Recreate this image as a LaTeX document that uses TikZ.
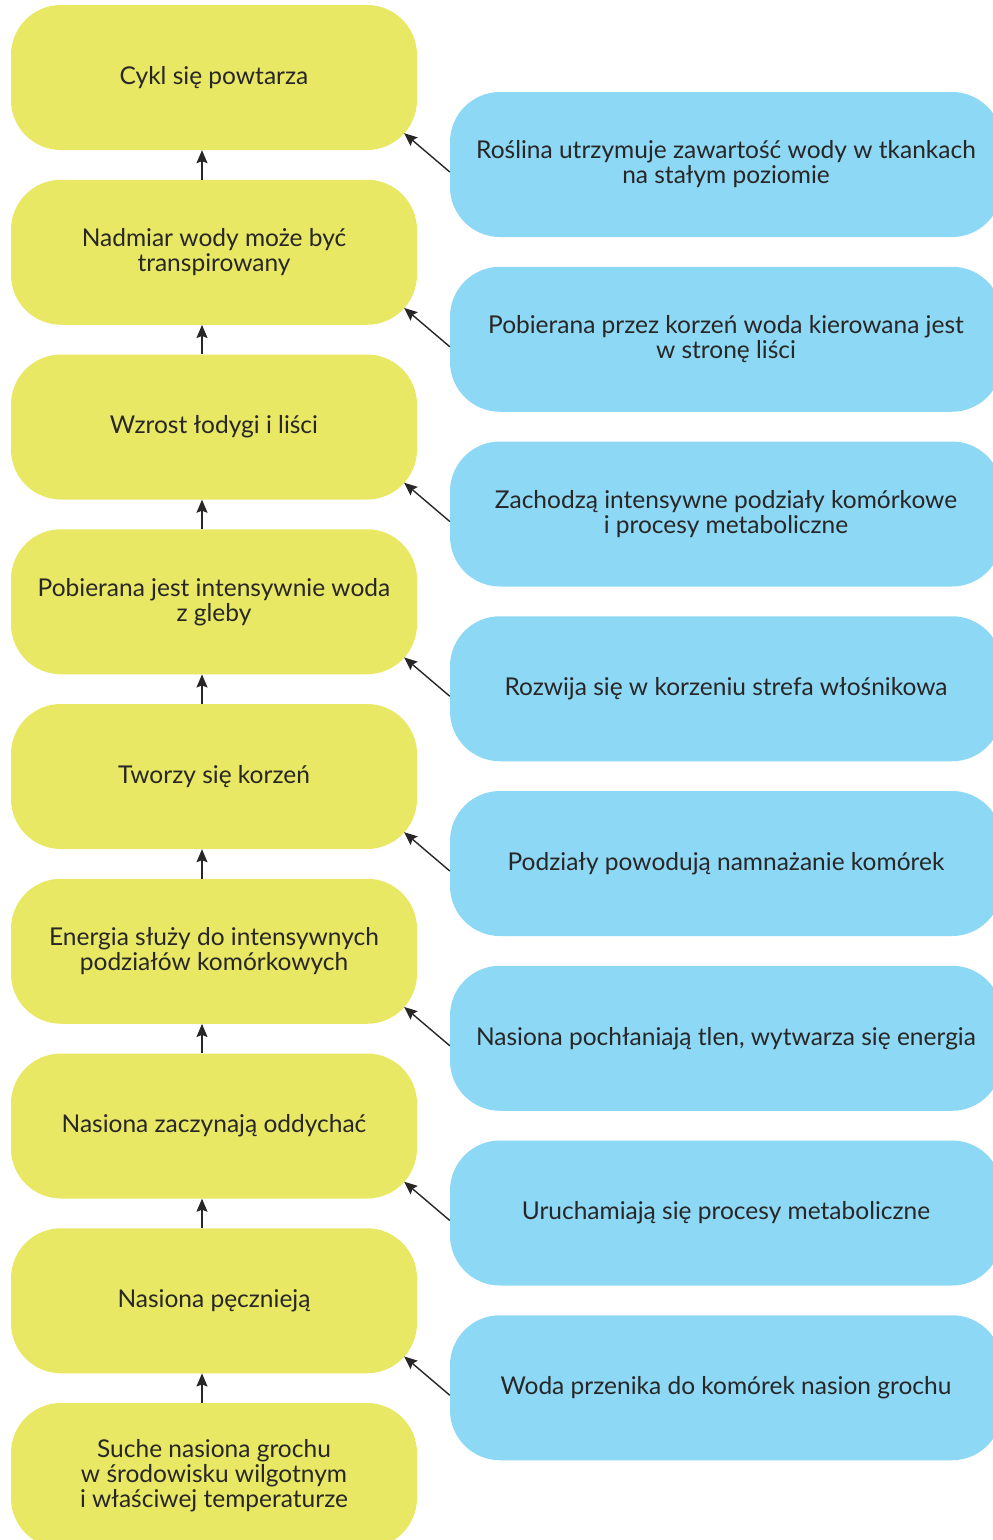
\documentclass[tikz,border=0pt]{standalone}
\usepackage{fontspec}
\setmainfont{Lato}
\usetikzlibrary{arrows.meta,calc}
\definecolor{stageyellow}{RGB}{232,232,100}
\definecolor{factblue}{RGB}{141,216,245}
\definecolor{inkgray}{RGB}{40,38,38}
\begin{document}
\begin{tikzpicture}[x=1pt,y=-1pt,
  stagebox/.style={rectangle,rounded corners=50pt,fill=stageyellow,draw=none,
    minimum width=406pt,minimum height=145pt,inner sep=0pt,text=inkgray,
    align=center,font=\fontsize{24.5}{25}\selectfont},
  factbox/.style={rectangle,rounded corners=50pt,fill=factblue,draw=none,
    minimum width=552pt,minimum height=145pt,inner sep=0pt,text=inkgray,
    align=center,font=\fontsize{24.5}{25}\selectfont},
  arr/.style={draw=inkgray,line width=1.4pt,-{Stealth[length=13pt,width=11pt,inset=2pt]}}]
\useasboundingbox (0,0) rectangle (993,1540);
\clip (0,0) rectangle (993,1540);

% stages of germination, bottom to top on the left
\node[stagebox] (L0) at (214,77.5) {Cykl się powtarza};
\node[stagebox] (L1) at (214,252.25) {Nadmiar wody może być\\transpirowany};
\node[stagebox] (L2) at (214,427) {Wzrost łodygi i liści};
\node[stagebox] (L3) at (214,601.75) {Pobierana jest intensywnie woda\\z gleby};
\node[stagebox] (L4) at (214,776.5) {Tworzy się korzeń};
\node[stagebox] (L5) at (214,951.25) {Energia służy do intensywnych\\podziałów komórkowych};
\node[stagebox] (L6) at (214,1126) {Nasiona zaczynają oddychać};
\node[stagebox] (L7) at (214,1300.75) {Nasiona pęcznieją};
\node[stagebox] (L8) at (214,1475.5) {Suche nasiona grochu\\w środowisku wilgotnym\\i właściwej temperaturze};

% explanations on the right
\node[factbox] (R0) at (726,164.5) {Roślina utrzymuje zawartość wody w tkankach\\na stałym poziomie};
\node[factbox] (R1) at (726,339.25) {Pobierana przez korzeń woda kierowana jest\\w stronę liści};
\node[factbox] (R2) at (726,514) {Zachodzą intensywne podziały komórkowe\\i procesy metaboliczne};
\node[factbox] (R3) at (726,688.75) {Rozwija się w korzeniu strefa włośnikowa};
\node[factbox] (R4) at (726,863.5) {Podziały powodują namnażanie komórek};
\node[factbox] (R5) at (726,1038.25) {Nasiona pochłaniają tlen, wytwarza się energia};
\node[factbox] (R6) at (726,1213) {Uruchamiają się procesy metaboliczne};
\node[factbox] (R7) at (726,1387.75) {Woda przenika do komórek nasion grochu};

% upward flow between stages
\foreach \a/\b in {L1/L0,L2/L1,L3/L2,L4/L3,L5/L4,L6/L5,L7/L6,L8/L7}
  \draw[arr] ([xshift=-12pt]\a.north) -- ([xshift=-12pt]\b.south);

% each explanation points to the stage above it
\foreach \r/\l in {R0/L0,R1/L1,R2/L2,R3/L3,R4/L4,R5/L5,R6/L6,R7/L7}
  \draw[arr] ([yshift=-7.5pt]\r.west) -- ($(\l.south east)+(-13,-17)$);
\end{tikzpicture}
\end{document}
